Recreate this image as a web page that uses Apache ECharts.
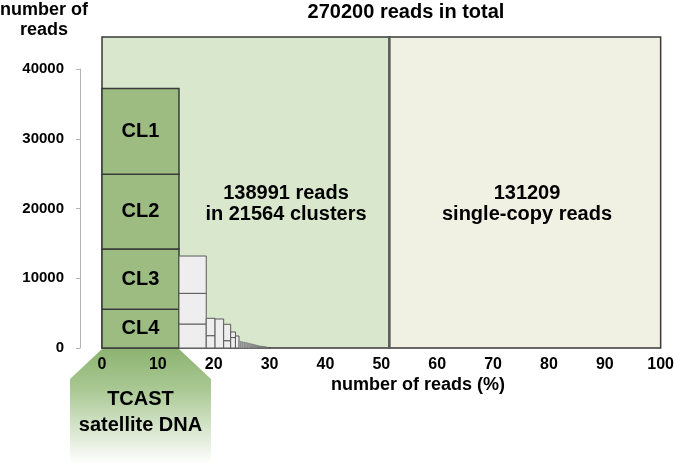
<!DOCTYPE html>
<html><head><meta charset="utf-8">
<script src="https://cdn.jsdelivr.net/npm/echarts/dist/echarts.min.js"></script>
<style>html,body{margin:0;padding:0;background:#fff}#c{width:677px;height:464px}</style>
</head><body><div id="c"></div>
<script>
// ---- data ----
const TOTAL_READS = 270200;
const CLUSTERED_READS = 138991;
const CLUSTER_COUNT = 21564;
const SINGLE_READS = 131209;
const TCAST_LABELS = ['CL4', 'CL3', 'CL2', 'CL1'];          // bottom to top
const TCAST_SIZES = [5550, 8640, 10710, 12330];             // reads per cluster
const OTHER_COLUMNS = [[3440, 4400, 5350], [1770, 2490], [4160], [1050, 2350], [1500, 800], [1720]];
const TAIL_SIZES = [950, 900, 850, 800, 750, 700, 650, 600, 560, 520, 480, 440, 410, 380, 350, 320, 300, 290, 280, 270, 260, 250, 240, 230,
  220, 210, 200, 190, 180, 175, 160, 150, 145, 130, 120, 110, 100, 90, 90, 85, 80, 75, 70, 70, 65, 60, 55, 50, 45, 40, 36, 32, 28, 25, 22, 20, 18, 16, 14, 12, 10];
const X_TICKS = [0, 10, 20, 30, 40, 50, 60, 70, 80, 90, 100];
const Y_TICKS = [0, 10000, 20000, 30000, 40000];
const Y_TOP = 44600;

// ---- derived marks ----
const pct = r => r / TOTAL_READS * 100;
const boxes = []; // [x0,x1,y0,y1,kind]
const boxLabels = [];
let cx = 0;
function addColumn(sizes, kind, labels) {
  const tot = sizes.reduce((a, b) => a + b, 0);
  const x0 = cx, x1 = cx + pct(tot);
  let y = 0;
  sizes.forEach((s, i) => {
    boxes.push([x0, x1, y, y + s, kind]);
    boxLabels.push(labels ? labels[i] : '');
    y += s;
  });
  cx = x1;
}
addColumn(TCAST_SIZES, 0, TCAST_LABELS);
const TCAST_PCT = cx;
OTHER_COLUMNS.forEach(c => addColumn(c, 1));
TAIL_SIZES.forEach(s => addColumn([s], 2));
const CLUSTERED_PCT = pct(CLUSTERED_READS);
const regions = [[0, CLUSTERED_PCT, 0], [CLUSTERED_PCT, 100, 1]];

const FONT = "'Liberation Sans', Arial, sans-serif";
const chart = echarts.init(document.getElementById('c'), null, {renderer: 'canvas'});
chart.setOption({
  animation: false,
  backgroundColor: '#ffffff',
  grid: [
    {left: 102, right: 12, top: 37, bottom: 116},
    {left: 80, width: 1, top: 69, bottom: 116}
  ],
  xAxis: [
    {gridIndex: 0, type: 'value', min: 0, max: 100, interval: 10, z: 10,
      axisLine: {show: false}, axisTick: {show: false}, splitLine: {show: false},
      axisLabel: {margin: 9, fontSize: 16, fontWeight: 'bold', color: '#000', fontFamily: FONT,
        customValues: X_TICKS, formatter: v => String(v)}},
    {gridIndex: 1, type: 'value', show: false, min: 0, max: 1}
  ],
  yAxis: [
    {gridIndex: 0, type: 'value', min: 0, max: Y_TOP, show: false},
    {gridIndex: 1, type: 'value', min: 0, max: 40000, interval: 10000, position: 'left',
      axisLine: {show: true, lineStyle: {color: '#b4b4b4', width: 1}},
      axisTick: {show: true, length: 4, lineStyle: {color: '#b4b4b4'}},
      splitLine: {show: false},
      axisLabel: {margin: 16, fontSize: 15, fontWeight: 'bold', color: '#000', fontFamily: FONT,
        customValues: Y_TICKS, formatter: v => String(v)}}
  ],
  series: [
    {
      type: 'custom', xAxisIndex: 0, yAxisIndex: 0, z: 1, data: regions,
      encode: {x: [0, 1]},
      renderItem: function (params, api) {
        const x0 = api.value(0), x1 = api.value(1);
        const a = api.coord([x0, Y_TOP]), b = api.coord([x1, 0]);
        return {type: 'rect', shape: {x: a[0], y: a[1], width: b[0] - a[0], height: b[1] - a[1]},
          style: {fill: params.dataIndex === 0 ? '#d9e7cd' : '#f0f1e3', stroke: '#3a3a3a', lineWidth: 1.5}};
      }
    },
    {
      type: 'custom', xAxisIndex: 0, yAxisIndex: 0, z: 2, data: [[CLUSTERED_PCT]],
      renderItem: function (params, api) {
        const a = api.coord([api.value(0), Y_TOP]), b = api.coord([api.value(0), 0]);
        return {type: 'line', shape: {x1: a[0], y1: a[1], x2: b[0], y2: b[1]},
          style: {stroke: '#5a5e5a', lineWidth: 2.5}};
      }
    },
    {
      type: 'custom', xAxisIndex: 0, yAxisIndex: 0, z: 1, data: [[0, TCAST_PCT]], clip: false,
      renderItem: function (params, api) {
        const p0 = api.coord([api.value(0), 0]), p1 = api.coord([api.value(1), 0]);
        const H = api.getHeight();
        const y0 = p0[1] + 1;
        return {type: 'group', children: [
          {type: 'polygon', shape: {points: [[p0[0], y0], [p1[0], y0], [p1[0] + 32, y0 + 30], [p1[0] + 32, H], [p0[0] - 32, H], [p0[0] - 32, y0 + 30]]},
            style: {fill: {type: 'linear', x: 0, y: 0, x2: 0, y2: 1, colorStops: [{offset: 0, color: '#8db371'}, {offset: 0.35, color: '#a9c893'}, {offset: 1, color: '#ffffff'}]}}},
          {type: 'text', x: (p0[0] + p1[0]) / 2, y: p0[1] + 64,
            style: {text: 'TCAST\nsatellite DNA', align: 'center', verticalAlign: 'middle', lineHeight: 26,
              font: 'bold 20px ' + FONT, fill: '#000'}}
        ]};
      }
    },
    {
      type: 'custom', xAxisIndex: 0, yAxisIndex: 0, z: 3, data: boxes,
      encode: {x: [0, 1], y: [2, 3]},
      renderItem: function (params, api) {
        const kind = api.value(4);
        const a = api.coord([api.value(0), api.value(3)]), b = api.coord([api.value(1), api.value(2)]);
        const style = kind === 0 ? {fill: '#9cbc82', stroke: '#3a3a3a', lineWidth: 1.5}
          : kind === 1 ? {fill: '#eeeeee', stroke: '#5a5a5a', lineWidth: 1}
          : {fill: '#a9a9a9', stroke: '#6a6a6a', lineWidth: 0.4};
        const rect = {type: 'rect', shape: {x: a[0], y: a[1], width: b[0] - a[0], height: b[1] - a[1]}, style: style};
        const lab = boxLabels[params.dataIndex];
        if (!lab) return rect;
        return {type: 'group', children: [rect,
          {type: 'text', x: (a[0] + b[0]) / 2, y: (a[1] + b[1]) / 2,
            style: {text: lab, align: 'center', verticalAlign: 'middle', font: 'bold 20px ' + FONT, fill: '#000'}}]};
      }
    }
  ],
  graphic: [
    {type: 'text', x: 406, y: 12, style: {text: TOTAL_READS + ' reads in total', align: 'center', verticalAlign: 'middle', font: 'bold 20px ' + FONT, fill: '#000'}},
    {type: 'text', x: 44, y: 20, style: {text: 'number of\nreads', align: 'center', verticalAlign: 'middle', lineHeight: 20, font: 'bold 18px ' + FONT, fill: '#000'}},
    {type: 'text', x: 286, y: 204, z: 20, style: {text: CLUSTERED_READS + ' reads\nin ' + CLUSTER_COUNT + ' clusters', align: 'center', verticalAlign: 'middle', lineHeight: 21, font: 'bold 20px ' + FONT, fill: '#000'}},
    {type: 'text', x: 527, y: 204, z: 20, style: {text: SINGLE_READS + '\nsingle-copy reads', align: 'center', verticalAlign: 'middle', lineHeight: 21, font: 'bold 20px ' + FONT, fill: '#000'}},
    {type: 'text', x: 418, y: 385, style: {text: 'number of reads (%)', align: 'center', verticalAlign: 'middle', font: 'bold 18px ' + FONT, fill: '#000'}}
  ]
});
</script></body></html>
